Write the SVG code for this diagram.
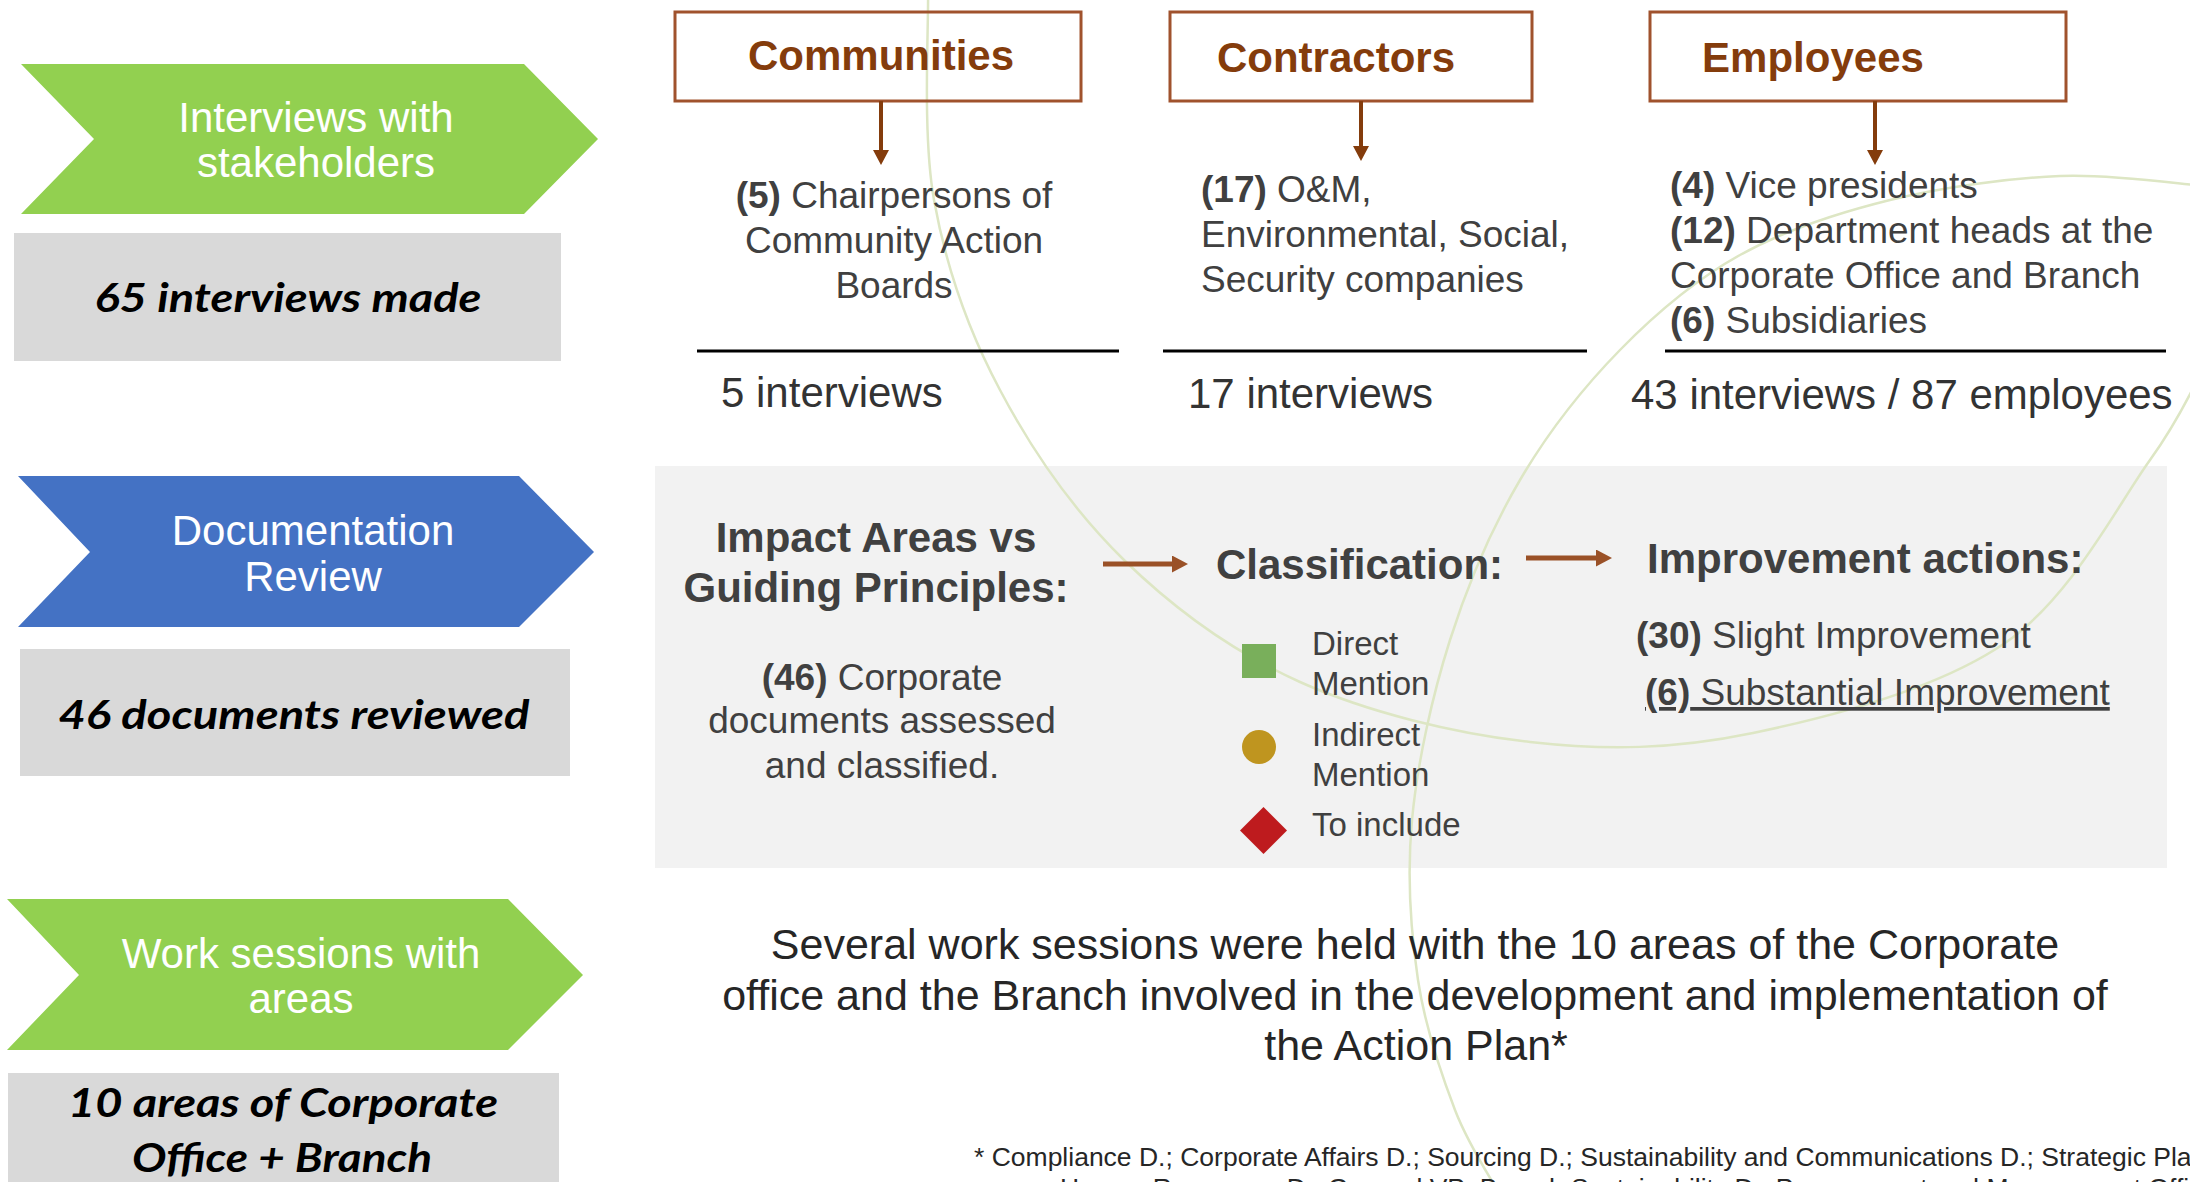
<svg xmlns="http://www.w3.org/2000/svg" width="2190" height="1182" viewBox="0 0 2190 1182">
  <defs>
    <style>
      .sans { font-family: "Liberation Sans", Arial, sans-serif; }
      .chev-txt { font-family: "Liberation Sans", Arial, sans-serif; font-size: 42px; fill: #ffffff; text-anchor: middle; }
      .stat { font-family: Lato, "Open Sans", sans-serif; font-size: 41px; font-weight: bold; font-style: italic; fill: #000000; text-anchor: middle; }
      .stat-box { fill: #D9D9D9; }
      .grp-box { fill: none; stroke: #A0522D; stroke-width: 3; }
      .grp-title { font-family: "Liberation Sans", Arial, sans-serif; font-size: 42px; font-weight: bold; fill: #843C0C; text-anchor: middle; }
      .body { font-family: "Liberation Sans", Arial, sans-serif; font-size: 37px; fill: #404040; }
      .count { font-family: "Liberation Sans", Arial, sans-serif; font-size: 42px; fill: #333333; }
      .rule { stroke: #000000; stroke-width: 3; }
      .ptitle { font-family: "Liberation Sans", Arial, sans-serif; font-size: 42px; font-weight: bold; fill: #404040; }
      .legend { font-family: "Liberation Sans", Arial, sans-serif; font-size: 33px; fill: #404040; }
      .big { font-family: "Liberation Sans", Arial, sans-serif; font-size: 43px; fill: #262626; text-anchor: middle; }
      .foot { font-family: "Liberation Sans", Arial, sans-serif; font-size: 26.5px; fill: #262626; }
      .arc { fill: none; stroke: #DDE6C4; stroke-width: 2.5; }
      .link-top { stroke: #843C0C; stroke-width: 4; fill: none; }
      .link-panel { stroke: #9A5127; stroke-width: 5; fill: none; }
      b, .b { font-weight: bold; }
    </style>
    <marker id="head-top" markerUnits="userSpaceOnUse" markerWidth="15" markerHeight="16" refX="0" refY="8" orient="auto">
      <path d="M0,0 L15,8 L0,16 z" fill="#843C0C"/>
    </marker>
    <marker id="head-panel" markerUnits="userSpaceOnUse" markerWidth="16" markerHeight="17" refX="0" refY="8.5" orient="auto">
      <path d="M0,0 L16,8.5 L0,17 z" fill="#9A5127"/>
    </marker>
  </defs>

  <rect x="0" y="0" width="2190" height="1182" fill="#ffffff"/>

  <!-- shaded panel behind the documentation review flow -->
  <g id="panel-bg">
    <rect x="655" y="466" width="1512" height="402" fill="#F2F2F2"/>
  </g>

  <!-- faint decorative background curves -->
  <g id="decor">
    <path class="arc" d="M928,-10 C929,25 922,133 934,200 C946,267 968,330 1000,390 C1031.7,450 1074,511 1124,560 C1174,608.7 1232.3,651.7 1300,682 C1367.7,712.3 1454.5,733.5 1530,742 C1605.5,750.5 1673.8,749.5 1753,733 C1832.2,716.5 1938.8,688.5 2005,643 C2071.2,597.5 2116.7,506.3 2150,460 C2183.3,413.7 2195.8,380.8 2205,365"/>
    <path class="arc" d="M2205,186 C2180.8,184.3 2112.5,173.7 2060,176 C2007.5,178.3 1943.3,186.8 1890,200 C1836.7,213.2 1785,230 1740,255 C1695,280 1656.7,312.5 1620,350 C1583.3,387.5 1548.3,431.7 1520,480 C1491.7,528.3 1468,583.3 1450,640 C1432,696.7 1417.3,763.3 1412,820 C1406.7,876.7 1410.8,931.7 1418,980 C1425.2,1028.3 1441.3,1074.2 1455,1110 C1468.7,1145.8 1492.5,1180.8 1500,1195"/>
  </g>

  <!-- left column: stages -->
  <g id="stage-interviews">
    <polygon points="21,64 524,64 598,139 524,214 21,214 94,139" fill="#92D050"/>
    <text class="chev-txt" x="316" y="132">Interviews with</text>
    <text class="chev-txt" x="316" y="177">stakeholders</text>
  </g>
  <g id="stat-interviews">
    <rect class="stat-box" x="14" y="233" width="547" height="128"/>
    <text class="stat" x="288" y="312" textLength="387" lengthAdjust="spacingAndGlyphs">65 interviews made</text>
  </g>

  <g id="stage-documentation">
    <polygon points="18,476 519,476 594,552 519,627 18,627 90,552" fill="#4472C4"/>
    <text class="chev-txt" x="313" y="545">Documentation</text>
    <text class="chev-txt" x="313" y="591">Review</text>
  </g>
  <g id="stat-documents">
    <rect class="stat-box" x="20" y="649" width="550" height="127"/>
    <text class="stat" x="294" y="729" textLength="471" lengthAdjust="spacingAndGlyphs">46 documents reviewed</text>
  </g>

  <g id="stage-worksessions">
    <polygon points="7,899 508,899 583,975 508,1050 7,1050 79,975" fill="#92D050"/>
    <text class="chev-txt" x="301" y="968">Work sessions with</text>
    <text class="chev-txt" x="301" y="1013">areas</text>
  </g>
  <g id="stat-areas">
    <rect class="stat-box" x="8" y="1073" width="551" height="120"/>
    <text class="stat" x="283" y="1117" textLength="430" lengthAdjust="spacingAndGlyphs">10 areas of Corporate</text>
    <text class="stat" x="282" y="1172" textLength="300" lengthAdjust="spacingAndGlyphs">Office + Branch</text>
  </g>

  <!-- stakeholder groups -->
  <g id="group-communities">
    <rect class="grp-box" x="675" y="12" width="406" height="89"/>
    <text class="grp-title" x="881" y="70">Communities</text>
  </g>
  <g id="detail-communities">
    <text class="body" x="894" y="208" text-anchor="middle"><tspan class="b">(5)</tspan> Chairpersons of</text>
    <text class="body" x="894" y="253" text-anchor="middle">Community Action</text>
    <text class="body" x="894" y="298" text-anchor="middle">Boards</text>
    <line class="rule" x1="697" y1="351" x2="1119" y2="351"/>
    <text class="count" x="721" y="407">5 interviews</text>
  </g>

  <g id="group-contractors">
    <rect class="grp-box" x="1170" y="12" width="362" height="89"/>
    <text class="grp-title" x="1336" y="72">Contractors</text>
  </g>
  <g id="detail-contractors">
    <text class="body" x="1201" y="202"><tspan class="b">(17)</tspan> O&amp;M,</text>
    <text class="body" x="1201" y="247">Environmental, Social,</text>
    <text class="body" x="1201" y="292">Security companies</text>
    <line class="rule" x1="1163" y1="351" x2="1587" y2="351"/>
    <text class="count" x="1188" y="408">17 interviews</text>
  </g>

  <g id="group-employees">
    <rect class="grp-box" x="1650" y="12" width="416" height="89"/>
    <text class="grp-title" x="1813" y="72">Employees</text>
  </g>
  <g id="detail-employees">
    <text class="body" x="1670" y="198"><tspan class="b">(4)</tspan> Vice presidents</text>
    <text class="body" x="1670" y="243"><tspan class="b">(12)</tspan> Department heads at the</text>
    <text class="body" x="1670" y="288">Corporate Office and Branch</text>
    <text class="body" x="1670" y="333"><tspan class="b">(6)</tspan> Subsidiaries</text>
    <line class="rule" x1="1665" y1="351" x2="2166" y2="351"/>
    <text class="count" x="1631" y="409">43 interviews / 87 employees</text>
  </g>

  <!-- documentation review flow -->
  <g id="step-impact">
    <text class="ptitle" x="876" y="552" text-anchor="middle">Impact Areas vs</text>
    <text class="ptitle" x="876" y="602" text-anchor="middle">Guiding Principles:</text>
    <text class="body" x="882" y="690" text-anchor="middle"><tspan class="b">(46)</tspan> Corporate</text>
    <text class="body" x="882" y="733" text-anchor="middle">documents assessed</text>
    <text class="body" x="882" y="778" text-anchor="middle">and classified.</text>
  </g>

  <g id="step-classification">
    <text class="ptitle" x="1216" y="579">Classification:</text>
    <rect x="1242" y="644" width="34" height="34" fill="#79AF5B"/>
    <text class="legend" x="1312" y="655">Direct</text>
    <text class="legend" x="1312" y="695">Mention</text>
    <circle cx="1259" cy="747" r="17" fill="#BF951F"/>
    <text class="legend" x="1312" y="746">Indirect</text>
    <text class="legend" x="1312" y="786">Mention</text>
    <polygon points="1263.5,807 1287,830.5 1263.5,854 1240,830.5" fill="#BE1B1E"/>
    <text class="legend" x="1312" y="836">To include</text>
  </g>

  <g id="step-improvement">
    <text class="ptitle" x="1647" y="573">Improvement actions:</text>
    <text class="body" x="1636" y="648"><tspan class="b">(30)</tspan> Slight Improvement</text>
    <text class="body" x="1645" y="705" text-decoration="underline"><tspan class="b">(6)</tspan> Substantial Improvement</text>
  </g>

  <!-- work sessions description -->
  <g id="note-worksessions">
    <text class="big" x="1415" y="959">Several work sessions were held with the 10 areas of the Corporate</text>
    <text class="big" x="1415" y="1010">office and the Branch involved in the development and implementation of</text>
    <text class="big" x="1416" y="1060">the Action Plan*</text>
  </g>

  <g id="footnote">
    <text class="foot" x="974" y="1166">* Compliance D.; Corporate Affairs D.; Sourcing D.; Sustainability and Communications D.; Strategic Planning D.;</text>
    <text class="foot" x="1060" y="1197">Human Resources D.; General VP; Branch Sustainability D.; Procurement and Management Office</text>
  </g>

  <!-- connectors -->
  <g id="connectors">
    <line class="link-top" x1="881" y1="101" x2="881" y2="150" marker-end="url(#head-top)"/>
    <line class="link-top" x1="1361" y1="101" x2="1361" y2="146" marker-end="url(#head-top)"/>
    <line class="link-top" x1="1875" y1="101" x2="1875" y2="150" marker-end="url(#head-top)"/>
    <line class="link-panel" x1="1103" y1="564" x2="1172" y2="564" marker-end="url(#head-panel)"/>
    <line class="link-panel" x1="1526" y1="558" x2="1596" y2="558" marker-end="url(#head-panel)"/>
  </g>
</svg>
